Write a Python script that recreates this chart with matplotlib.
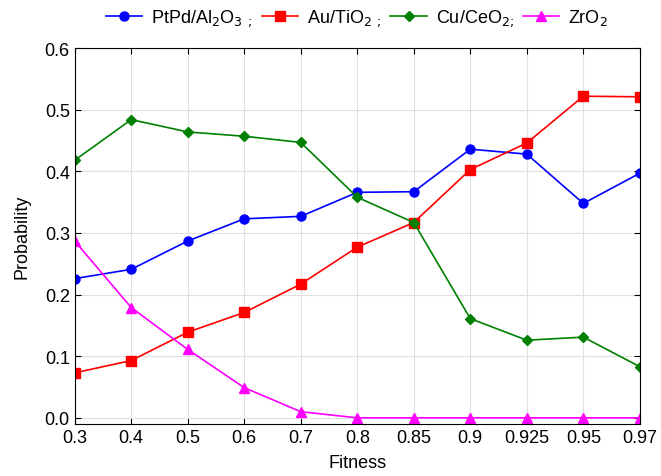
import matplotlib
matplotlib.use('Agg')
import matplotlib.pyplot as plt

plt.rcParams['font.family'] = ['Liberation Sans', 'DejaVu Sans']

fitness = ['0.3', '0.4', '0.5', '0.6', '0.7', '0.8', '0.85', '0.9', '0.925', '0.95', '0.97']
ptpd = [0.226, 0.241, 0.287, 0.323, 0.327, 0.366, 0.367, 0.436, 0.428, 0.348, 0.397]
au = [0.073, 0.093, 0.139, 0.171, 0.217, 0.277, 0.317, 0.403, 0.446, 0.522, 0.521]
cu = [0.418, 0.484, 0.464, 0.457, 0.447, 0.358, 0.317, 0.161, 0.126, 0.131, 0.083]
zro2 = [0.287, 0.179, 0.111, 0.049, 0.010, 0.0, 0.0, 0.0, 0.0, 0.0, 0.0]

fig = plt.figure(figsize=(6.61, 4.77), dpi=100)
ax = fig.add_axes([0.113, 0.109, 0.855, 0.788])

x = range(len(fitness))
ax.plot(x, ptpd, color='blue', marker='o', markersize=6.5, lw=1.2,
        label=r'PtPd/Al$_2$O$_3$ $_;$')
ax.plot(x, au, color='red', marker='s', markersize=6.5, lw=1.2,
        label=r'Au/TiO$_2$ $_;$')
ax.plot(x, cu, color='green', marker='D', markersize=5, lw=1.2,
        label=r'Cu/CeO$_2$$_;$')
ax.plot(x, zro2, color='magenta', marker='^', markersize=6.5, lw=1.2,
        label=r'ZrO$_2$')

ax.set_xlim(0, len(fitness) - 1)
ax.set_ylim(-0.01, 0.6)
ax.set_xticks(list(x))
ax.set_xticklabels(fitness)
ax.set_yticks([0.0, 0.1, 0.2, 0.3, 0.4, 0.5, 0.6])
ax.set_yticklabels(['0.0', '0.1', '0.2', '0.3', '0.4', '0.5', '0.6'])
ax.tick_params(labelsize=13, direction='in', top=True, right=True, length=4)
ax.grid(True, color='#e0e0e0', linestyle='-', linewidth=0.8)

ax.set_xlabel('Fitness', fontsize=13, labelpad=6)
ax.set_ylabel('Probability', fontsize=13, labelpad=10)

ax.legend(loc='lower center', bbox_to_anchor=(0.5, 1.01), ncol=4, frameon=False,
          fontsize=13, handlelength=2.0, handletextpad=0.5, columnspacing=0.5)

fig.savefig('out.png', dpi=100)
